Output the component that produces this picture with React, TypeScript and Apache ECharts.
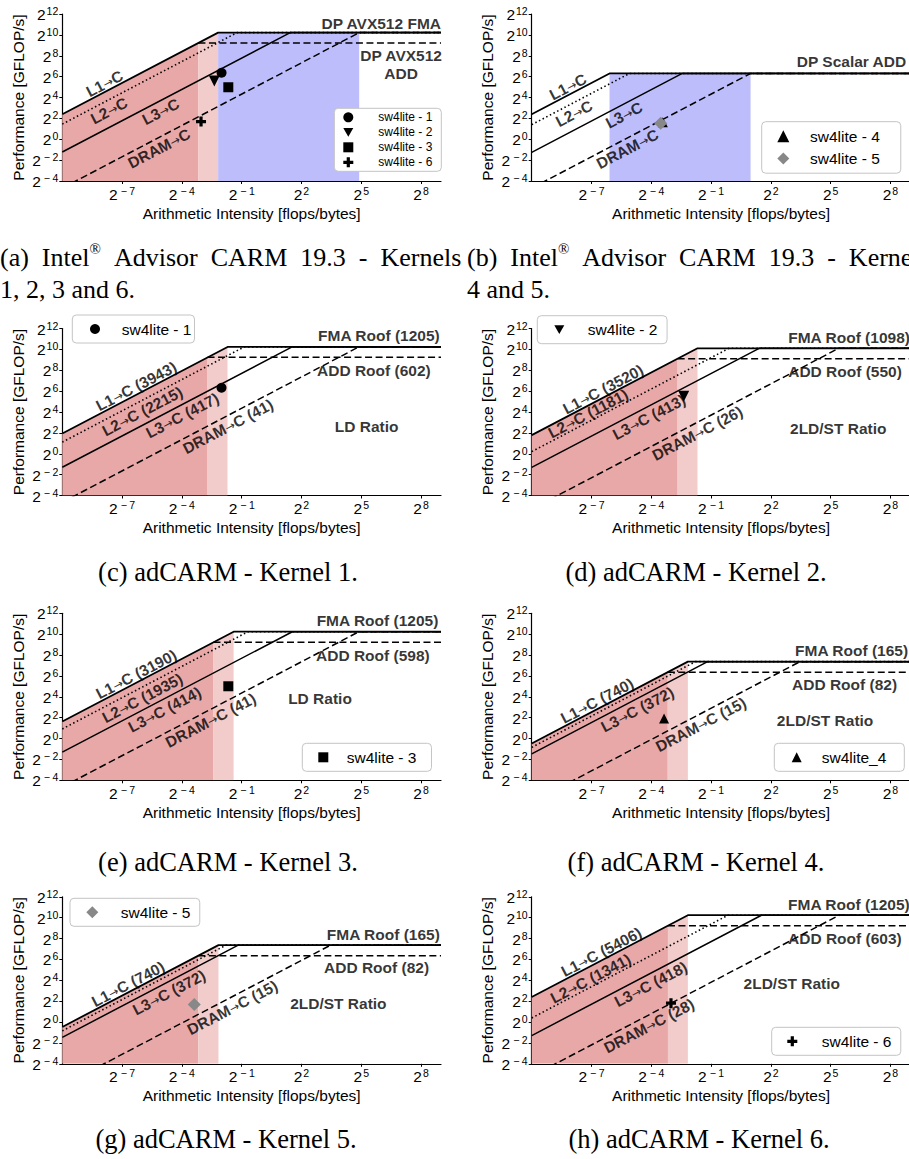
import React, { useEffect, useRef } from "react";
import * as echarts from "echarts";

// ---------------- data ----------------
const CAPTIONS = [
  "(a) Intel® Advisor CARM 19.3 - Kernels\n1, 2, 3 and 6.",
  "(b) Intel® Advisor CARM 19.3 - Kernels\n4 and 5.",
  "(c) adCARM - Kernel 1.",
  "(d) adCARM - Kernel 2.",
  "(e) adCARM - Kernel 3.",
  "(f) adCARM - Kernel 4.",
  "(g) adCARM - Kernel 5.",
  "(h) adCARM - Kernel 6.",
];

// log2 exponents shown as tick labels
const X_TICKS = [-7, -4, -1, 2, 5, 8];
const Y_TICKS = [-4, -2, 0, 2, 4, 6, 8, 10, 12];
const X_RANGE = [-10, 9];
const Y_RANGE = [-4, 12];

// roofs (GFLOP/s) and bandwidths (GB/s) per panel a..h
const FMA_ROOF = [1190, 79, 1205, 1098, 1205, 165, 165, 1205];
const ADD_ROOF = [600, null, 602, 550, 598, 82, 82, 603];
const L1_BW = [5400, 5400, 3943, 3520, 3190, 740, 740, 5406];
const L2_BW = [2800, 2700, 2215, 1181, 1935, 570, 570, 1341];
const L3_BW = [440, 430, 417, 413, 414, 372, 372, 418];
const DRAM_BW = [40, 40, 41, 26, 41, 15, 15, 28];
const HAS_BLUE = [true, true, false, false, false, false, false, false];

const FMA_LABEL = [
  "DP AVX512 FMA", "DP Scalar ADD", "FMA Roof (1205)", "FMA Roof (1098)",
  "FMA Roof (1205)", "FMA Roof (165)", "FMA Roof (165)", "FMA Roof (1205)",
];
const ADD_LABEL = [
  "DP AVX512\nADD", null, "ADD Roof (602)", "ADD Roof (550)",
  "ADD Roof (598)", "ADD Roof (82)", "ADD Roof (82)", "ADD Roof (603)",
];
const BW_LABELS = [
  ["L1→C", "L2→C", "L3→C", "DRAM→C"],
  ["L1→C", "L2→C", "L3→C", "DRAM→C"],
  ["L1→C (3943)", "L2→C (2215)", "L3→C (417)", "DRAM→C (41)"],
  ["L1→C (3520)", "L2→C (1181)", "L3→C (413)", "DRAM→C (26)"],
  ["L1→C (3190)", "L2→C (1935)", "L3→C (414)", "DRAM→C (41)"],
  ["L1→C (740)", null, "L3→C (372)", "DRAM→C (15)"],
  ["L1→C (740)", null, "L3→C (372)", "DRAM→C (15)"],
  ["L1→C (5406)", "L2→C (1341)", "L3→C (418)", "DRAM→C (28)"],
];
const RATIO_TEXT = [null, null, "LD Ratio", "2LD/ST Ratio", "LD Ratio", "2LD/ST Ratio", "2LD/ST Ratio", "2LD/ST Ratio"];

// kernels: arithmetic intensity (flops/byte) and performance (GFLOP/s)
const KERNEL_NAME = ["sw4lite - 1", "sw4lite - 2", "sw4lite - 3", "sw4lite - 4", "sw4lite - 5", "sw4lite - 6", "sw4lite_4"];
const POINT_PANEL = [0, 0, 0, 0, 1, 1, 2, 3, 4, 5, 6, 7];
const POINT_KERNEL = [0, 1, 2, 5, 3, 4, 0, 1, 2, 6, 4, 5];
const POINT_AI = [0.248, 0.193, 0.314, 0.1216, 0.0934, 0.0866, 0.248, 0.193, 0.314, 0.0974, 0.096, 0.124];
const POINT_PERF = [83, 47.8, 31.6, 3.23, 3.07, 2.89, 79.9, 45.9, 32.2, 3.76, 3.23, 3.51];
const LEGEND_ITEMS = [[0, 1, 2, 5], [3, 4], [0], [1], [2], [6], [4], [5]];

// ---------------- layout / style ----------------
const SANS = '"Liberation Sans", Arial, Helvetica, sans-serif';
const ARROW_FONT = '"DejaVu Sans", "Noto Sans", sans-serif';
const SERIF = '"Liberation Serif", "Times New Roman", serif';
const COL_LEFT = [62.3, 531.7];
const ROW_TOP = [14, 328.5, 613.3, 896.8];
const GRID_W = 378.7;
const GRID_H = 167;
const DARK_PINK = "#e8a8a8";
const LIGHT_PINK = "#f2cbcb";
const BLUE = "#bdbdfc";

const KERNEL_SYMBOL = [
  "circle",
  "path://M0,0L10,0L5,8.66Z",
  "rect",
  "triangle",
  "diamond",
  "path://M3.4,0H6.6V3.4H10V6.6H6.6V10H3.4V6.6H0V3.4H3.4Z",
  "triangle",
];
const KERNEL_SIZE = [10, 11, 10, 10, 13, 10, 10];
const KERNEL_COLOR = ["#000", "#000", "#000", "#000", "#888", "#000", "#000"];

// label positions along lines (log2 AI of label centre) and side (-1 above, 1 below)
const BW_LABEL_X = [
  [-7.53, -8.11, -5.52, -5.6],
  [-7.83, -8.33, -5.82, -5.65],
  [-5.94, -6.44, -4.43, -2.14],
  [-6.07, -6.82, -4.57, -2.14],
  [-5.94, -6.44, -5.32, -3.01],
  [-6.37, 0, -5.15, -1.97],
  [-6.35, 0, -5.1, -1.92],
  [-6.15, -6.69, -4.48, -4.57],
];
const BW_LABEL_SIDE = [
  [-1, 1, 1, 1], [-1, 1, 1, 1], [-1, 1, 1, 1], [-1, -1, 1, 1],
  [-1, 1, 1, 1], [-1, 1, 1, 1], [-1, 1, 1, 1], [-1, -1, 1, 1],
];
const FMA_LABEL_X = [9, 3.3, 2.83, 2.87, 2.76, 3.21, 3.27, 2.86];
const FMA_LABEL_ALIGN = ["right", "left", "left", "left", "left", "left", "left", "left"];
const FMA_LABEL_DY = [-9.5, -11.7, -11, -11, -11, -11, -11, -11];
const ADD_LABEL_X = [7.0, 0, 2.78, 2.87, 2.73, 3.06, 3.13, 2.86];
const ADD_LABEL_ALIGN = ["center", "left", "left", "left", "left", "left", "left", "left"];
const ADD_LABEL_DY = [21.3, 0, 13, 13, 13, 12, 12, 13];
const RATIO_POS = [null, null, [5.27, 2.64], [5.38, 2.42], [2.93, 3.83], [4.72, 1.75], [3.85, 1.75], [3.05, 3.66]];

const LEGEND_LAYOUT = [
  { left: 334.3, top: 108.3, pad: [3, 9, 3, 9], s: 10, gap: 3, fs: 12, lh: 12, tp: 20 },
  { left: 761.7, top: 121.7, pad: [6.6, 21, 6.6, 15.6], s: 12, gap: 6.3, fs: 15.5, lh: 16, tp: 15.7 },
  { left: 72.3, top: 315, pad: [6, 3, 6, 17.7], s: 10, gap: 6, fs: 15.5, lh: 16, tp: 16.7 },
  { left: 537.3, top: 315.7, pad: [6, 9.6, 6, 17], s: 10, gap: 6, fs: 15.5, lh: 16, tp: 18.4 },
  { left: 302.3, top: 743.3, pad: [6, 15, 6, 16], s: 10, gap: 6, fs: 15.5, lh: 16, tp: 13.4 },
  { left: 774.3, top: 743.3, pad: [6, 18, 6, 17.4], s: 10, gap: 6, fs: 15.5, lh: 16, tp: 15 },
  { left: 70, top: 898.3, pad: [6, 9.3, 6, 16.3], s: 12, gap: 6, fs: 15.5, lh: 16, tp: 17.4 },
  { left: 771.7, top: 1027.3, pad: [6, 9.3, 6, 15.6], s: 10, gap: 6, fs: 15.5, lh: 16, tp: 19.4 },
];

const CAPTION_POS = [
  { x: 0, y: 241, align: "left" },
  { x: 467, y: 241, align: "left" },
  { x: 228, y: 572, align: "center" },
  { x: 696, y: 572, align: "center" },
  { x: 228, y: 862, align: "center" },
  { x: 696, y: 862, align: "center" },
  { x: 226, y: 1139, align: "center" },
  { x: 699, y: 1139, align: "center" },
];

const L = Math.log2;
const THETA = Math.atan((GRID_H / (Y_RANGE[1] - Y_RANGE[0])) / (GRID_W / (X_RANGE[1] - X_RANGE[0])));
const ROT = (THETA * 180) / Math.PI;
const SIN = Math.sin(THETA);
const COS = Math.cos(THETA);

const expRich = {
  b: { fontSize: 15.5, fontFamily: SANS, color: "#000", lineHeight: 17, verticalAlign: "bottom" },
  m: { fontSize: 10.5, fontFamily: SANS, color: "#000", lineHeight: 11, verticalAlign: "top", padding: [0, 1.5, 0, 3] },
  s: { fontSize: 10.5, fontFamily: SANS, color: "#000", lineHeight: 11, verticalAlign: "top", padding: [0, 0, 0, 1] },
};
const expLabel = (v: number) => {
  const n = Math.round(v);
  return n < 0 ? `{b|2}{m|−}{s|${-n}}` : `{b|2}{s|${n}}`;
};

// justified first caption line (LaTeX stretches inter-word space)
const captionText = (t: string, justify: boolean) => {
  const lines = t.split("\n");
  if (justify) lines[0] = lines[0].split(" ").join("\u2002");
  return lines.join("\n").replace("®", "{r|®}");
};

function buildOption() {
  const grid: any[] = [];
  const xAxis: any[] = [];
  const yAxis: any[] = [];
  const series: any[] = [];
  const legend: any[] = [];
  const graphic: any[] = [];

  for (let i = 0; i < 8; i++) {
    const col = i % 2;
    const row = Math.floor(i / 2);
    grid.push({
      left: COL_LEFT[col], top: ROW_TOP[row], width: GRID_W, height: GRID_H,
      containLabel: false, outerBoundsMode: "none",
    });
    const axisLine = { show: true, onZero: false, lineStyle: { color: "#000", width: 1.2 } };
    xAxis.push({
      type: "value", gridIndex: i, min: X_RANGE[0], max: X_RANGE[1],
      axisLine,
      axisTick: { show: true, length: 3, customValues: X_TICKS, lineStyle: { color: "#000", width: 1 } },
      axisLabel: { customValues: X_TICKS, formatter: expLabel, rich: expRich, margin: 4 },
      splitLine: { show: false },
      name: "Arithmetic Intensity [flops/bytes]", nameLocation: "middle", nameGap: 24,
      nameTextStyle: { fontFamily: SANS, fontSize: 15.5, color: "#000" },
    });
    yAxis.push({
      type: "value", gridIndex: i, min: Y_RANGE[0], max: Y_RANGE[1],
      axisLine,
      axisTick: { show: true, length: 3, customValues: Y_TICKS, lineStyle: { color: "#000", width: 1 } },
      axisLabel: { customValues: Y_TICKS, formatter: expLabel, rich: expRich, margin: 4 },
      splitLine: { show: false },
      name: "Performance [GFLOP/s]", nameLocation: "middle", nameGap: 36,
      nameTextStyle: { fontFamily: SANS, fontSize: 15.5, color: "#000" },
    });

    const fma = L(FMA_ROOF[i]);
    const l1 = L(L1_BW[i]);
    const fmaRidge = fma - l1;
    const base = { xAxisIndex: i, yAxisIndex: i };

    // shaded regions
    const area = (data: number[][], color: string) => ({
      ...base, type: "line", data, symbol: "none", silent: true, z: 1,
      lineStyle: { width: 0 }, areaStyle: { color, opacity: 1, origin: "start" },
    });
    const addVal = ADD_ROOF[i];
    if (addVal != null) {
      const add = L(addVal);
      const addRidge = add - l1;
      series.push(area([[X_RANGE[0], X_RANGE[0] + l1], [addRidge, add]], DARK_PINK));
      series.push(area([[addRidge, add], [fmaRidge, fma]], LIGHT_PINK));
    }
    if (HAS_BLUE[i]) {
      const dramRidge = fma - L(DRAM_BW[i]);
      series.push(area([[fmaRidge, fma], [dramRidge, fma]], BLUE));
    }

    // rooflines
    const bws = [L1_BW[i], L2_BW[i], L3_BW[i], DRAM_BW[i]];
    const styles = [
      { type: "solid", width: 1.8 },
      { type: [1.5, 2.6], width: 1.6 },
      { type: "solid", width: 1.5 },
      { type: [7, 3.5], width: 1.5 },
    ];
    bws.forEach((bw, j) => {
      const b = L(bw);
      series.push({
        ...base, type: "line", symbol: "none", silent: true, z: 2,
        data: [[X_RANGE[0], X_RANGE[0] + b], [fma - b, fma], [X_RANGE[1], fma]],
        lineStyle: { color: "#000", ...styles[j] },
      });
    });
    if (addVal != null) {
      const add = L(addVal);
      series.push({
        ...base, type: "line", symbol: "none", silent: true, z: 2,
        data: [[add - l1, add], [X_RANGE[1], add]],
        lineStyle: { color: "#000", type: [7, 3.5], width: 1.5 },
      });
    }

    // kernel points
    POINT_PANEL.forEach((p, k) => {
      if (p !== i) return;
      const kn = POINT_KERNEL[k];
      series.push({
        ...base, type: "scatter", name: KERNEL_NAME[kn], z: 4,
        symbol: KERNEL_SYMBOL[kn], symbolSize: KERNEL_SIZE[kn],
        itemStyle: { color: KERNEL_COLOR[kn], opacity: 1 },
        data: [[L(POINT_AI[k]), L(POINT_PERF[k])]],
      });
    });

    // text labels
    const labelData: any[] = [];
    const textStyle = { fontFamily: SANS, fontWeight: "bold", fontSize: 15.5, color: "#000" };
    BW_LABELS[i].forEach((txt, j) => {
      if (!txt) return;
      const b = L(bws[j]);
      const x = BW_LABEL_X[i][j];
      const side = BW_LABEL_SIDE[i][j];
      const d = side < 0 ? 8.5 : 11;
      labelData.push({
        value: [x, x + b],
        label: {
          show: true, position: "inside", rotate: ROT, align: "center", verticalAlign: "middle",
          offset: [side * d * SIN, side * d * COS],
          formatter: txt.replace("→", "{arw|→}"),
          ...textStyle,
          rich: { arw: { fontFamily: ARROW_FONT, fontSize: 12, fontWeight: "normal", color: "#000", padding: [2, 0, 0, 0] } },
        },
      });
    });
    labelData.push({
      value: [FMA_LABEL_X[i], fma],
      label: {
        show: true, position: "inside", align: FMA_LABEL_ALIGN[i], verticalAlign: "middle",
        offset: [0, FMA_LABEL_DY[i]], formatter: FMA_LABEL[i], ...textStyle,
      },
    });
    const addTxt = ADD_LABEL[i];
    if (addTxt && addVal != null) {
      labelData.push({
        value: [ADD_LABEL_X[i], L(addVal)],
        label: {
          show: true, position: "inside", align: ADD_LABEL_ALIGN[i], verticalAlign: "middle",
          offset: [0, ADD_LABEL_DY[i]], formatter: addTxt, lineHeight: 18, ...textStyle,
        },
      });
    }
    const rp = RATIO_POS[i];
    const rt = RATIO_TEXT[i];
    if (rp && rt) {
      labelData.push({
        value: rp,
        label: { show: true, position: "inside", align: "center", verticalAlign: "middle", formatter: rt, ...textStyle },
      });
    }
    series.push({
      ...base, type: "scatter", z: 5, silent: true, clip: false,
      symbolSize: 0.1, itemStyle: { color: "rgba(0,0,0,0)" },
      data: labelData,
    });

    // legend
    const lg = LEGEND_LAYOUT[i];
    legend.push({
      orient: "vertical", left: lg.left, top: lg.top, padding: lg.pad,
      itemWidth: lg.s, itemHeight: lg.s, itemGap: lg.gap, selectedMode: false,
      symbolKeepAspect: true,
      borderColor: "#c4c4c4", borderWidth: 1, borderRadius: 4, backgroundColor: "#fff",
      data: LEGEND_ITEMS[i].map((k) => KERNEL_NAME[k]),
      textStyle: { fontFamily: SANS, fontSize: lg.fs, lineHeight: lg.lh, color: "#000", padding: [0, 0, 0, lg.tp] },
    });

    // caption
    const cp = CAPTION_POS[i];
    graphic.push({
      type: "text", x: cp.x, y: cp.y, silent: true,
      style: {
        text: captionText(CAPTIONS[i], i < 2),
        fontFamily: SERIF, fontSize: i < 2 ? 26 : 26.5, fill: "#000",
        align: cp.align, verticalAlign: i < 2 ? "top" : "middle",
        lineHeight: 32,
        rich: { r: { fontFamily: SERIF, fontSize: 15, lineHeight: 20, verticalAlign: "top", fill: "#000" } },
      },
    });
  }

  return { animation: false, backgroundColor: "#fff", grid, xAxis, yAxis, series, legend, graphic };
}

export default function App() {
  const ref = useRef<HTMLDivElement>(null);
  useEffect(() => {
    if (!ref.current) return;
    const chart = echarts.init(ref.current, null, { renderer: "svg" });
    chart.setOption(buildOption() as any);
    return () => chart.dispose();
  }, []);
  return (
    <div
      ref={ref}
      style={{ position: "absolute", left: 0, top: 0, width: 909, height: 1159, background: "#fff" }}
    />
  );
}
